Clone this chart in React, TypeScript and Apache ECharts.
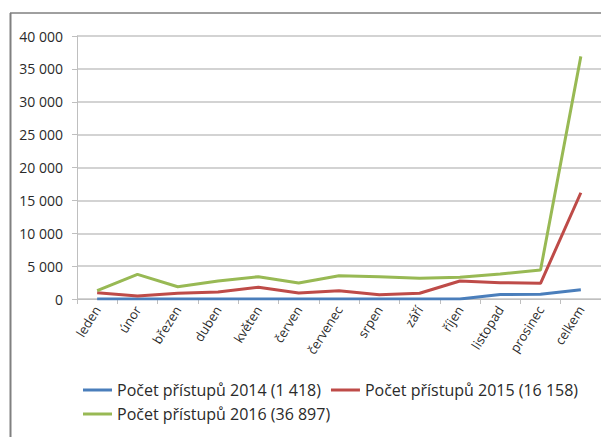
import React, { useEffect, useRef } from "react";
import * as echarts from "echarts";

const categories = ["leden", "únor", "březen", "duben", "květen", "červen", "červenec", "srpen", "září", "říjen", "listopad", "prosinec", "celkem"];
const seriesNames = ["Počet přístupů 2014 (1 418)", "Počet přístupů 2015 (16 158)", "Počet přístupů 2016 (36 897)"];
const values2014 = [0, 0, 0, 0, 0, 0, 0, 0, 0, 0, 680, 738, 1418];
const values2015 = [960, 460, 870, 1060, 1780, 900, 1260, 650, 870, 2740, 2480, 2380, 16158];
const values2016 = [1260, 3750, 1870, 2740, 3400, 2430, 3550, 3400, 3150, 3300, 3800, 4400, 36897];
const colors = ["#4a7ebb", "#be4b48", "#98b954"];

const FONT = "'Open Sans', 'Noto Sans', sans-serif";

export default function App() {
  const ref = useRef<HTMLDivElement>(null);
  useEffect(() => {
    if (!ref.current) return;
    const chart = echarts.init(ref.current, undefined, { renderer: "svg" });
    const mk = (name: string, data: number[], color: string) => ({
      name,
      type: "line",
      data,
      symbol: "none",
      lineStyle: { color, width: 3 },
      itemStyle: { color },
    });
    chart.setOption({
      animation: false,
      backgroundColor: "#ffffff",
      textStyle: { fontFamily: FONT },
      grid: { left: 77, top: 36, width: 525, height: 263, containLabel: false },
      xAxis: {
        type: "category",
        data: categories,
        boundaryGap: true,
        axisLine: { lineStyle: { color: "#bfbfbf", width: 1 } },
        axisTick: { show: true, length: 5, lineStyle: { color: "#bfbfbf" } },
        axisLabel: { rotate: 58, fontSize: 13, color: "#2a2a2a", margin: 8, fontFamily: FONT, interval: 0, hideOverlap: false },
      },
      yAxis: {
        type: "value",
        min: 0,
        max: 40000,
        interval: 5000,
        axisLine: { show: true, lineStyle: { color: "#bfbfbf", width: 1 } },
        axisTick: { show: true, length: 5, lineStyle: { color: "#bfbfbf" } },
        splitLine: { lineStyle: { color: "#c4c4c4", width: 1.5 } },
        axisLabel: {
          fontSize: 14,
          color: "#2a2a2a",
          margin: 14,
          fontFamily: FONT,
          formatter: (v: number) => String(v).replace(/\B(?=(\d{3})+(?!\d))/g, " "),
        },
      },
      legend: [
        {
          data: [seriesNames[0], seriesNames[1]],
          left: 78,
          top: 377,
          icon: "rect",
          itemWidth: 29,
          itemHeight: 3,
          itemGap: 10,
          textStyle: { fontSize: 16, color: "#2a2a2a", fontFamily: FONT },
        },
        {
          data: [seriesNames[2]],
          left: 78,
          top: 401,
          icon: "rect",
          itemWidth: 29,
          itemHeight: 3,
          textStyle: { fontSize: 16, color: "#2a2a2a", fontFamily: FONT },
        },
      ],
      graphic: [
        { type: "line", shape: { x1: 10, y1: 13, x2: 601, y2: 13 }, style: { stroke: "#404040", lineWidth: 1 } },
        { type: "line", shape: { x1: 10.5, y1: 13, x2: 10.5, y2: 437 }, style: { stroke: "#808080", lineWidth: 2 } },
      ],
      series: [
        mk(seriesNames[0], values2014, colors[0]),
        mk(seriesNames[1], values2015, colors[1]),
        mk(seriesNames[2], values2016, colors[2]),
      ],
    });
    return () => chart.dispose();
  }, []);
  return <div ref={ref} style={{ position: "fixed", left: 0, top: 0, width: 601, height: 437 }} />;
}
